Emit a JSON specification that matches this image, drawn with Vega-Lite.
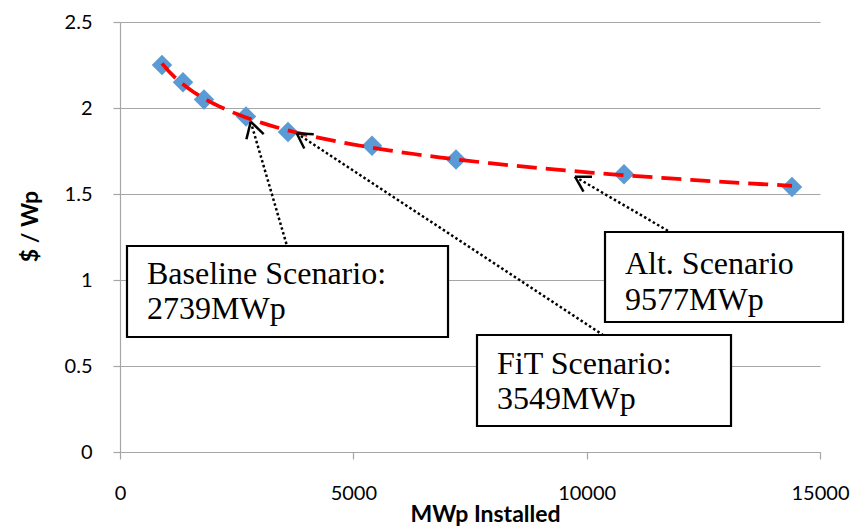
{
  "$schema": "https://vega.github.io/schema/vega-lite/v6.json",
  "width": 700,
  "height": 430,
  "autosize": {"type": "none"},
  "padding": {"left": 120, "top": 22, "right": 36, "bottom": 77},
  "background": "white",
  "config": {
    "view": {"stroke": null},
    "axis": {
      "labelFont": "Lato",
      "labelFontSize": 20,
      "labelColor": "#000000",
      "titleFont": "Lato",
      "titleFontSize": 23,
      "titleFontWeight": "bold",
      "titleColor": "#000000",
      "domainColor": "#A6A6A6",
      "tickColor": "#A6A6A6",
      "gridColor": "#A6A6A6",
      "domainWidth": 1.2,
      "tickWidth": 1.2,
      "gridWidth": 1.2,
      "tickSize": 7,
      "labelFlush": false,
      "labelOverlap": false
    }
  },
  "datasets": {
    "pts": [
      {"mw": 900, "cost": 2.25},
      {"mw": 1350, "cost": 2.15},
      {"mw": 1800, "cost": 2.05},
      {"mw": 2700, "cost": 1.95},
      {"mw": 3600, "cost": 1.86},
      {"mw": 5400, "cost": 1.78},
      {"mw": 7200, "cost": 1.70},
      {"mw": 10800, "cost": 1.615},
      {"mw": 14400, "cost": 1.54}
    ],
    "boxes": [
      {"name": "Baseline", "bx1": 150, "bx2": 7029, "by1": 0.6686, "by2": 1.1977},
      {"name": "FiT", "bx1": 7650, "bx2": 13093, "by1": 0.1512, "by2": 0.6802},
      {"name": "Alt", "bx1": 10393, "bx2": 15493, "by1": 0.7558, "by2": 1.2791}
    ],
    "shafts": [
      {"name": "Baseline", "ax": 2801, "ay": 1.9203, "ax2": 3579, "ay2": 1.1977},
      {"name": "FiT", "ax": 3786, "ay": 1.8529, "ax2": 10350, "ay2": 0.6802},
      {"name": "Alt", "ax": 9750, "ay": 1.6006, "ax2": 11786, "ay2": 1.2791}
    ],
    "heads": [
      {"name": "Baseline", "hx": 2801, "hy": 1.9203, "hx2": 3079, "hy2": 1.8483},
      {"name": "Baseline", "hx": 2801, "hy": 1.9203, "hx2": 2709, "hy2": 1.8186},
      {"name": "FiT", "hx": 3786, "hy": 1.8529, "hx2": 4151, "hy2": 1.8471},
      {"name": "FiT", "hx": 3786, "hy": 1.8529, "hx2": 3949, "hy2": 1.7645},
      {"name": "Alt", "hx": 9750, "hy": 1.6006, "hx2": 10114, "hy2": 1.6},
      {"name": "Alt", "hx": 9750, "hy": 1.6006, "hx2": 9932, "hy2": 1.5145}
    ],
    "labels": [
      {"tx": 579, "ty": 0.9767, "t": "Baseline Scenario:"},
      {"tx": 579, "ty": 0.7733, "t": "2739MWp"},
      {"tx": 8079, "ty": 0.4535, "t": "FiT Scenario:"},
      {"tx": 8079, "ty": 0.25, "t": "3549MWp"},
      {"tx": 10821, "ty": 1.0349, "t": "Alt. Scenario"},
      {"tx": 10821, "ty": 0.8256, "t": "9577MWp"}
    ]
  },
  "layer": [
    {
      "data": {"name": "pts"},
      "mark": {"type": "point", "shape": "diamond", "filled": true, "size": 420, "color": "#5B9BD5", "opacity": 1},
      "encoding": {
        "x": {
          "field": "mw", "type": "quantitative",
          "scale": {"domain": [0, 15000], "nice": false, "zero": true},
          "axis": {"title": "MWp Installed", "values": [0, 5000, 10000, 15000], "format": "d", "grid": false, "labelPadding": 24, "titlePadding": 0, "titleX": 365}
        },
        "y": {
          "field": "cost", "type": "quantitative",
          "scale": {"domain": [0, 2.5], "nice": false, "zero": true},
          "axis": {"title": "$ / Wp", "values": [0, 0.5, 1, 1.5, 2, 2.5], "format": "~g", "grid": true, "labelPadding": 21, "titlePadding": 22, "titleY": 204}
        }
      }
    },
    {
      "data": {"name": "pts"},
      "transform": [{"regression": "cost", "on": "mw", "method": "pow"}],
      "mark": {"type": "line", "color": "#FF0000", "strokeWidth": 3.75, "strokeDash": [20, 9]},
      "encoding": {
        "x": {"field": "mw", "type": "quantitative"},
        "y": {"field": "cost", "type": "quantitative"}
      }
    },
    {
      "data": {"name": "boxes"},
      "mark": {"type": "rect", "fill": "#FFFFFF", "stroke": "#000000", "strokeWidth": 2.2},
      "encoding": {
        "x": {"field": "bx1", "type": "quantitative"},
        "x2": {"field": "bx2"},
        "y": {"field": "by1", "type": "quantitative"},
        "y2": {"field": "by2"}
      }
    },
    {
      "data": {"name": "shafts"},
      "mark": {"type": "rule", "color": "#000000", "strokeWidth": 2.5, "strokeDash": [2.5, 2.5]},
      "encoding": {
        "x": {"field": "ax", "type": "quantitative"},
        "x2": {"field": "ax2"},
        "y": {"field": "ay", "type": "quantitative"},
        "y2": {"field": "ay2"}
      }
    },
    {
      "data": {"name": "heads"},
      "mark": {"type": "rule", "color": "#000000", "strokeWidth": 2.5},
      "encoding": {
        "x": {"field": "hx", "type": "quantitative"},
        "x2": {"field": "hx2"},
        "y": {"field": "hy", "type": "quantitative"},
        "y2": {"field": "hy2"}
      }
    },
    {
      "data": {"name": "labels"},
      "mark": {"type": "text", "font": "Liberation Serif", "fontSize": 32, "align": "left", "baseline": "alphabetic", "color": "#000000"},
      "encoding": {
        "x": {"field": "tx", "type": "quantitative"},
        "y": {"field": "ty", "type": "quantitative"},
        "text": {"field": "t"}
      }
    }
  ]
}
